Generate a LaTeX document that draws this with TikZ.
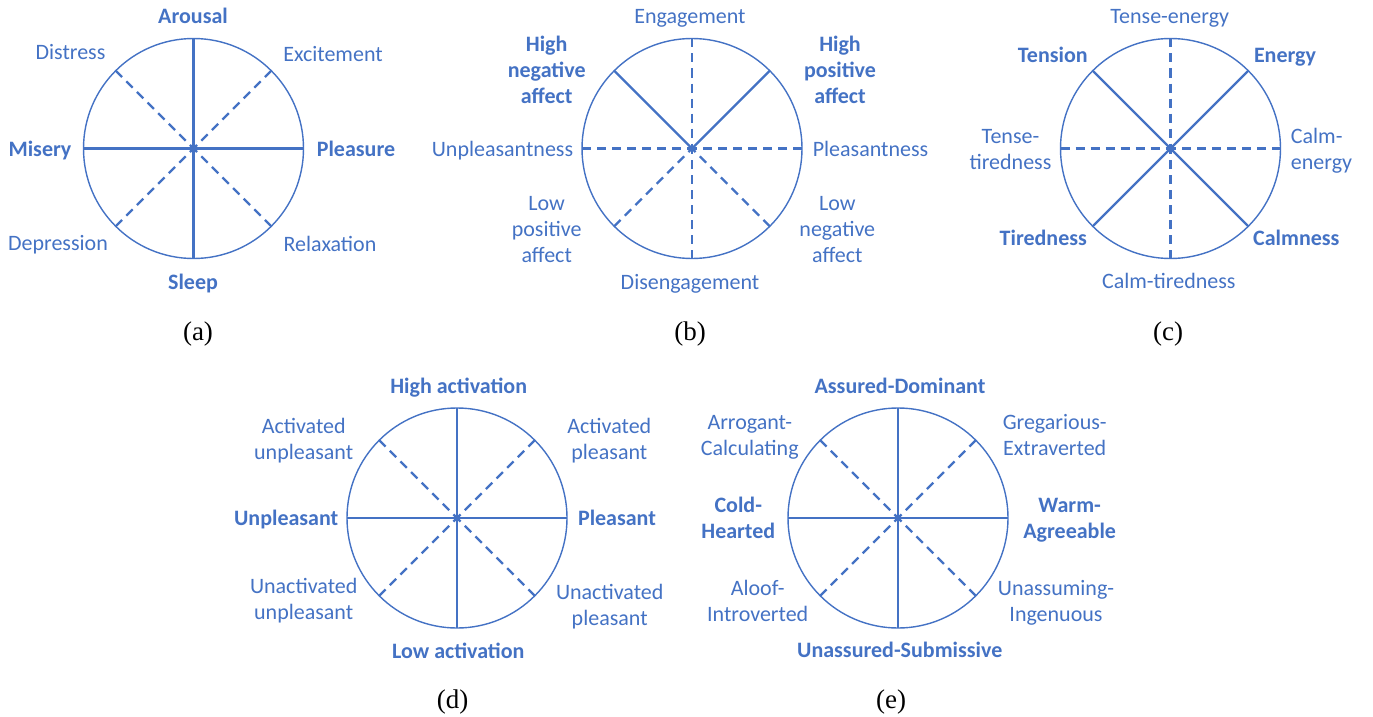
\documentclass[tikz,border=0pt]{standalone}
\usepackage{fontspec}
\setmainfont{Liberation Serif}
\newfontfamily\labfont{Carlito}
\usetikzlibrary{calc}
\definecolor{cblue}{RGB}{68,114,196}
\newcommand{\mlc}[1]{\begin{tabular}[t]{@{}c@{}}#1\end{tabular}}
\newcommand{\mll}[1]{\begin{tabular}[t]{@{}l@{}}#1\end{tabular}}
\tikzset{
  wheel/.style={circle, draw=cblue, line width=1.4pt, minimum size=220pt, inner sep=0pt, outer sep=0pt},
  solidspoke/.style={draw=cblue, line width=2.4pt},
  dashspoke/.style={draw=cblue, line width=2.2pt, dash pattern=on 9pt off 6pt},
  lab/.style={font=\labfont\fontsize{22}{26}\selectfont, text=cblue, inner sep=0pt, anchor=base},
  blab/.style={lab, font=\labfont\bfseries\fontsize{22}{26}\selectfont},
  captext/.style={font=\fontsize{27}{30}\selectfont, text=black, inner sep=0pt, anchor=base}
}
\begin{document}
\begin{tikzpicture}[x=1pt,y=-1pt]
\useasboundingbox (0,0) rectangle (1373,717);

% ---------- (a)
\node[wheel] (A) at (193.5,148.5) {};
\coordinate (Ac) at (A.center);
\draw[solidspoke] (A.north) -- (A.south);
\draw[solidspoke] (A.west) -- (A.east);
\draw[dashspoke] (A.north west) -- (Ac);
\draw[dashspoke] (A.north east) -- (Ac);
\draw[dashspoke] (A.south west) -- (Ac);
\draw[dashspoke] (A.south east) -- (Ac);
\node[blab] (a1) at (193,24) {Arousal};
\node[lab] (a2) at (70.5,59.5) {Distress};
\node[lab] (a3) at (333,61.5) {Excitement};
\node[blab] (a4) at (40,156.5) {Misery};
\node[blab] (a5) at (356,156) {Pleasure};
\node[lab] (a6) at (58,250.5) {Depression};
\node[lab] (a7) at (330,251.5) {Relaxation};
\node[blab] (a8) at (193,289) {Sleep};
\node[captext] (acap) at (198,340) {(a)};

% ---------- (b)
\node[wheel] (B) at (692,148.5) {};
\coordinate (Bc) at (B.center);
\draw[dashspoke] (B.north) -- (Bc);
\draw[dashspoke] (B.south) -- (Bc);
\draw[dashspoke] (B.west) -- (Bc);
\draw[dashspoke] (B.east) -- (Bc);
\draw[solidspoke] (B.north west) -- (Bc);
\draw[solidspoke] (B.north east) -- (Bc);
\draw[dashspoke] (B.south west) -- (Bc);
\draw[dashspoke] (B.south east) -- (Bc);
\node[lab] (b1) at (690,23.3) {Engagement};
\node[blab] (b2) at (546.7,51.7) {\mlc{High\\negative\\affect}};
\node[blab] (b3) at (840,51.7) {\mlc{High\\positive\\affect}};
\node[lab] (b4) at (502.5,156) {Unpleasantness};
\node[lab] (b5) at (870.5,156) {Pleasantness};
\node[lab] (b6) at (546.7,210.7) {\mlc{Low\\positive\\affect}};
\node[lab] (b7) at (837.3,210.7) {\mlc{Low\\negative\\affect}};
\node[lab] (b8) at (690,289.3) {Disengagement};
\node[captext] (bcap) at (690,340) {(b)};

% ---------- (c)
\node[wheel] (C) at (1170.5,148.5) {};
\coordinate (Cc) at (C.center);
\draw[dashspoke] (C.north) -- (Cc);
\draw[dashspoke] (C.south) -- (Cc);
\draw[dashspoke] (C.west) -- (Cc);
\draw[dashspoke] (C.east) -- (Cc);
\draw[solidspoke] (C.north west) -- (C.south east);
\draw[solidspoke] (C.north east) -- (C.south west);
\node[lab] (c1) at (1169.7,24) {Tense-energy};
\node[blab] (c2) at (1052.8,62.7) {Tension};
\node[blab] (c3) at (1285,62.7) {Energy};
\node[lab] (c4) at (1010.5,143.3) {\mlc{Tense-\\tiredness}};
\node[lab, anchor=base west] (c5) at (1290.7,143.3) {\mll{Calm-\\energy}};
\node[blab] (c6) at (1043.3,245) {Tiredness};
\node[blab] (c7) at (1296.3,245) {Calmness};
\node[lab] (c8) at (1168.8,288.3) {Calm-tiredness};
\node[captext] (ccap) at (1168,340) {(c)};

% ---------- (d)
\node[wheel] (D) at (457,518) {};
\coordinate (Dc) at (D.center);
\draw[solidspoke] (D.north) -- (D.south);
\draw[solidspoke] (D.west) -- (D.east);
\draw[dashspoke] (D.north west) -- (Dc);
\draw[dashspoke] (D.north east) -- (Dc);
\draw[dashspoke] (D.south west) -- (Dc);
\draw[dashspoke] (D.south east) -- (Dc);
\node[blab] (d1) at (458.7,393.3) {High activation};
\node[lab] (d2) at (303.7,433.3) {\mlc{Activated\\unpleasant}};
\node[lab] (d3) at (609.3,433.3) {\mlc{Activated\\pleasant}};
\node[blab] (d4) at (286.2,525) {Unpleasant};
\node[blab] (d5) at (617,525) {Pleasant};
\node[lab] (d6) at (303.7,593.3) {\mlc{Unactivated\\unpleasant}};
\node[lab] (d7) at (609.7,599.3) {\mlc{Unactivated\\pleasant}};
\node[blab] (d8) at (458.3,658.3) {Low activation};
\node[captext] (dcap) at (452.5,708) {(d)};

% ---------- (e)
\node[wheel] (E) at (898,518) {};
\coordinate (Ec) at (E.center);
\draw[solidspoke] (E.north) -- (E.south);
\draw[solidspoke] (E.west) -- (E.east);
\draw[dashspoke] (E.north west) -- (Ec);
\draw[dashspoke] (E.north east) -- (Ec);
\draw[dashspoke] (E.south west) -- (Ec);
\draw[dashspoke] (E.south east) -- (Ec);
\node[blab] (e1) at (900,393.3) {Assured-Dominant};
\node[lab] (e2) at (749.8,429.3) {\mlc{Arrogant-\\Calculating}};
\node[lab] (e3) at (1054.7,429.3) {\mlc{Gregarious-\\Extraverted}};
\node[blab] (e4) at (738.3,512.7) {\mlc{Cold-\\Hearted}};
\node[blab] (e5) at (1069.7,512.7) {\mlc{Warm-\\Agreeable}};
\node[lab] (e6) at (757.7,595) {\mlc{Aloof-\\Introverted}};
\node[lab] (e7) at (1056,595) {\mlc{Unassuming-\\Ingenuous}};
\node[blab] (e8) at (899.7,657.3) {Unassured-Submissive};
\node[captext] (ecap) at (891,708) {(e)};
\end{tikzpicture}
\end{document}
